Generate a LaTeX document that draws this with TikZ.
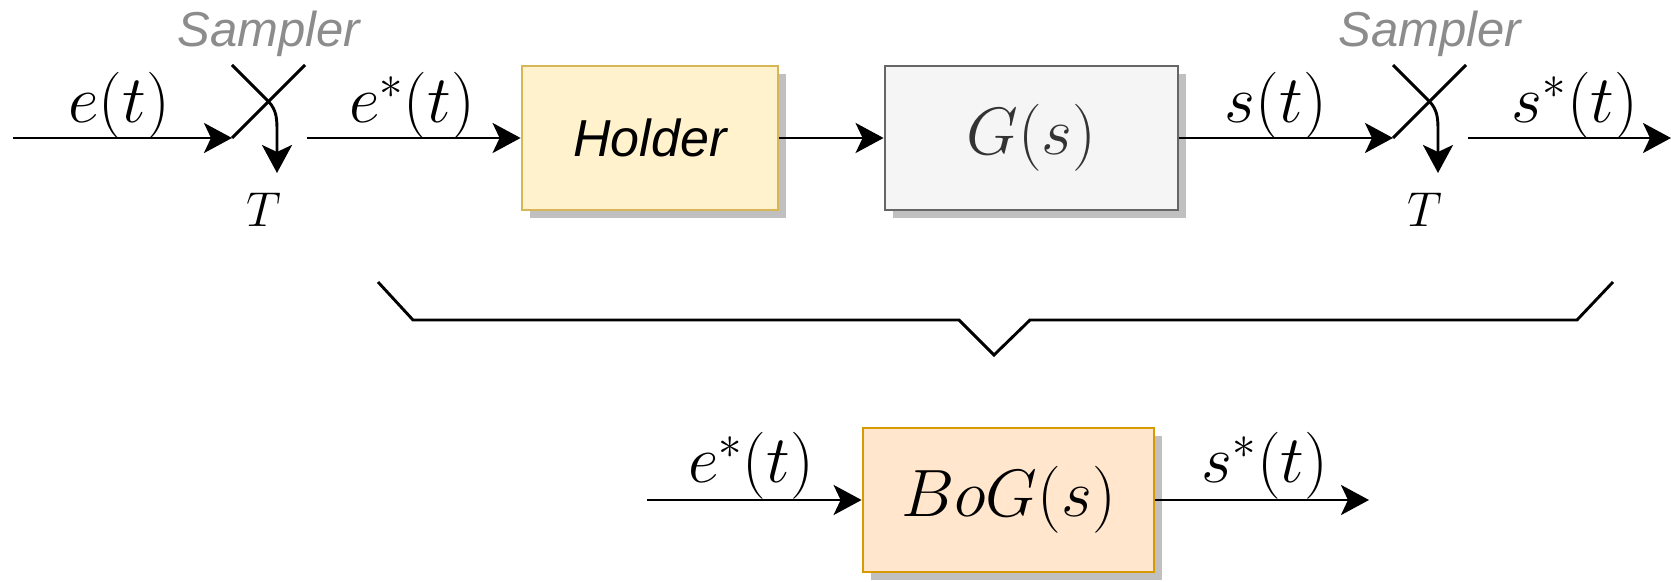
\RequirePackage{fix-cm}
\documentclass[tikz,border=0pt]{standalone}
\usepackage{fontspec}
\newfontfamily\helv{Liberation Sans}
\usetikzlibrary{arrows.meta,shadows}
\definecolor{holderfill}{HTML}{FFF2CC}
\definecolor{holderdraw}{HTML}{D6B656}
\definecolor{gfill}{HTML}{F5F5F5}
\definecolor{gdraw}{HTML}{666666}
\definecolor{gtext}{HTML}{333333}
\definecolor{bogfill}{HTML}{FFE6CC}
\definecolor{bogdraw}{HTML}{D79B00}
\definecolor{shadowgray}{HTML}{C0C0C0}
\definecolor{samplergray}{HTML}{8C8C8C}
\begin{document}
\begin{tikzpicture}[x=0.5pt,y=-0.5pt,
  wire/.style={line width=1.45pt},
  conn/.style={line width=1.45pt,-{Stealth[length=14pt,width=15pt,inset=3.5pt]}},
  mlabel/.style={font=\fontsize{33.5}{40}\selectfont,inner sep=0pt},
  tlabel/.style={font=\fontsize{24.5}{29}\selectfont,inner sep=0pt},
  slabel/.style={font=\helv\itshape\fontsize{24.5}{29}\selectfont,text=samplergray,inner sep=0pt},
  blk/.style={minimum height=72pt,line width=1.4pt,inner sep=0pt,
    drop shadow={shadow xshift=4pt,shadow yshift=-4pt,fill=shadowgray,opacity=1}},
  sampler/.pic={
    \coordinate (-a) at (0,0);
    \coordinate (-b) at (73,-73);
    \coordinate (-c) at (0,-73);
    \coordinate (-k) at (36,-37);
    \coordinate (-v) at (45,-6);
    \coordinate (-t) at (45,35);
    \coordinate (-o) at (75,0);
    \draw[wire] (-a) -- (-b);
    \draw[conn] (-c) -- (-k) to[out=-45,in=90] (-v) -- (-t);
    \node[slabel] (-name) at (37,-104) {Sampler};
    \node[tlabel] (-T) at (32,72) {$T$};
  }
]
\useasboundingbox (0,0) rectangle (1671,582);

% top row
\coordinate (in) at (13,138);
\pic (s1) at (232,138) {sampler};
\node[blk,fill=holderfill,draw=holderdraw,minimum width=128pt] (holder) at (650,138)
  {\helv\itshape\fontsize{26}{30}\selectfont Holder};
\node[blk,fill=gfill,draw=gdraw,minimum width=146.5pt,font=\fontsize{33.5}{40}\selectfont,text=gtext] (g) at (1031.5,138) {$G(s)$};
\pic (s2) at (1393,138) {sampler};
\coordinate (out) at (1671,138);

\draw[conn] (in) -- (s1-a);
\draw[conn] (s1-o) -- (holder.west);
\draw[conn] (holder.east) -- (g.west);
\draw[conn] (g.east) -- (s2-a);
\draw[conn] (s2-o) -- (out);

\node[mlabel] (l1) at (119,106) {$e(t)$};
\node[mlabel] (l2) at (412,106) {$e^*(t)$};
\node[mlabel] (l3) at (1276,106) {$s(t)$};
\node[mlabel] (l4) at (1575,106) {$s^*(t)$};

% brace
\coordinate (br1) at (378,282);
\coordinate (br2) at (413,320);
\coordinate (br3) at (959,320);
\coordinate (br4) at (994,355);
\coordinate (br5) at (1030,320);
\coordinate (br6) at (1577,320);
\coordinate (br7) at (1613,282);
\draw[wire] (br1) -- (br2) -- (br3) -- (br4) -- (br5) -- (br6) -- (br7);

% bottom row
\node[blk,fill=bogfill,draw=bogdraw,minimum width=145.5pt,font=\fontsize{33.5}{40}\selectfont] (bog) at (1008.5,500) {$BoG(s)$};
\coordinate (bin) at (647,500);
\coordinate (bout) at (1369,500);
\draw[conn] (bin) -- (bog.west);
\draw[conn] (bog.east) -- (bout);
\node[mlabel] (l5) at (751,466) {$e^*(t)$};
\node[mlabel] (l6) at (1265,466) {$s^*(t)$};
\end{tikzpicture}
\end{document}
